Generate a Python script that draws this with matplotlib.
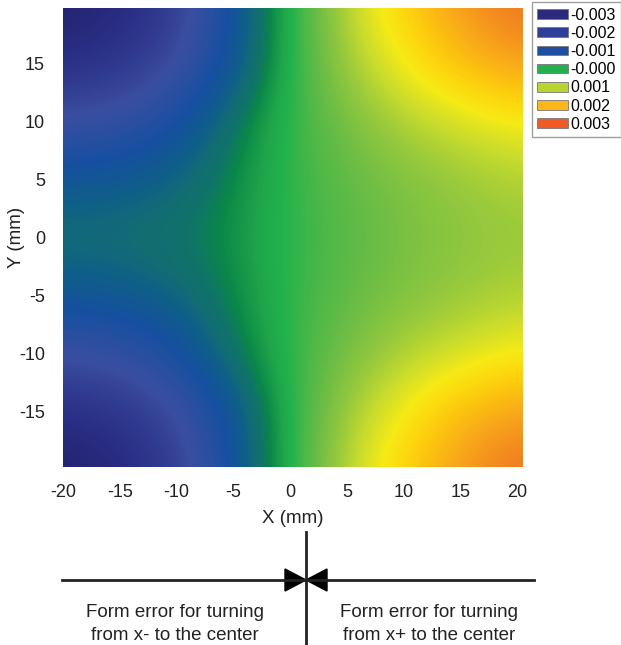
import matplotlib
matplotlib.use('Agg')
import matplotlib.pyplot as plt
import matplotlib.patches as patches
from matplotlib.colors import LinearSegmentedColormap, Normalize
import numpy as np

plt.rcParams['font.family'] = ['Liberation Sans', 'DejaVu Sans']
plt.rcParams['axes.unicode_minus'] = False

# grid of form error values (mm), rows y = 20 .. -20, cols x = -20 .. 20
x_grid = [-20, -15, -10, -5, 0, 5, 10, 15, 20]
y_grid = [20, 15, 10, 5, 0, -5, -10, -15, -20]
row_y20 = [-0.0033, -0.0031, -0.0028, -0.0019, -0.0004, 0.0009, 0.0018, 0.0026, 0.0031]
row_y15 = [-0.0030, -0.0029, -0.0026, -0.0018, -0.0004, 0.0007, 0.0014, 0.0021, 0.0025]
row_y10 = [-0.0025, -0.0024, -0.0020, -0.0011, -0.0003, 0.0003, 0.0008, 0.0011, 0.0014]
row_y5 = [-0.0017, -0.0016, -0.0014, -0.0009, -0.0003, 0.0001, 0.0004, 0.0006, 0.0008]
row_y0 = [-0.0012, -0.0012, -0.0011, -0.0008, -0.0003, 0.0000, 0.0003, 0.0005, 0.0006]
error_rows = [row_y20, row_y15, row_y10, row_y5, row_y0,
              row_y5, row_y10, row_y15, row_y20]

# colour scale anchors
cmap_values = [-0.0034, -0.0030, -0.0025, -0.0019, -0.0015, -0.0013, -0.0011,
               -0.0009, -0.0006, -0.0004, -0.0001, 0.0002, 0.0006, 0.0010,
               0.0014, 0.0017, 0.0020, 0.0024, 0.0030, 0.0034]
cmap_colors = ['#201c62', '#2a2f86', '#3a4ea0', '#1650a0', '#0f5f88', '#136c74',
               '#0f7468', '#0b8848', '#1fa64a', '#22b24c', '#4cb848', '#6cbd45',
               '#96c93d', '#c8dc2c', '#f6ea16', '#fdd80e', '#fcc40e', '#f9a81a',
               '#f07a22', '#ee5a24']

legend_labels = ['-0.003', '-0.002', '-0.001', '-0.000', '0.001', '0.002', '0.003']
legend_colors = ['#2b2a7c', '#2d3f97', '#1f4ea0', '#22b14c', '#b7d433', '#fbb717', '#f15a24']

x_ticks = [-20, -15, -10, -5, 0, 5, 10, 15, 20]
y_ticks = [-15, -10, -5, 0, 5, 10, 15]


def main():
    fig = plt.figure(figsize=(6.21, 6.45), dpi=100)
    W, H = 621, 645

    ax = fig.add_axes([63 / W, 1 - 467 / H, 460 / W, 459 / H])

    vmin, vmax = cmap_values[0], cmap_values[-1]
    pos = [(v - vmin) / (vmax - vmin) for v in cmap_values]
    cmap = LinearSegmentedColormap.from_list('form', list(zip(pos, cmap_colors)))

    z = np.array(error_rows)
    dx = (x_grid[1] - x_grid[0]) / 2
    dy = (y_grid[0] - y_grid[1]) / 2
    ax.imshow(z, cmap=cmap, norm=Normalize(vmin, vmax), interpolation='bicubic',
              extent=[x_grid[0] - dx, x_grid[-1] + dx, y_grid[-1] - dy, y_grid[0] + dy],
              aspect='auto', origin='upper')
    ax.set_xlim(-20, 20.5)
    ax.set_ylim(-19.8, 19.8)

    ax.set_xticks(x_ticks)
    ax.set_yticks(y_ticks)
    ax.tick_params(length=0, labelsize=13, colors='#222222')
    ax.tick_params(axis='x', pad=12)
    ax.tick_params(axis='y', pad=13)
    for s in ax.spines.values():
        s.set_visible(False)
    ax.set_xlabel('X (mm)', fontsize=13.5, labelpad=7, color='#222222')
    ax.set_ylabel('Y (mm)', fontsize=13.5, labelpad=-4, color='#222222')

    handles = [patches.Patch(facecolor=c, edgecolor='#777777', linewidth=0.6, label=l)
               for c, l in zip(legend_colors, legend_labels)]
    fig.legend(handles=handles, loc='upper right', bbox_to_anchor=(621 / W, 1 - 2 / H),
               fontsize=11.5, frameon=True, fancybox=False, edgecolor='#888888',
               handlelength=1.9, handleheight=0.55, handletextpad=0.15,
               labelspacing=0.2, borderpad=0.35, borderaxespad=0)

    # sketch below the map, in pixel coordinates
    ov = fig.add_axes([0, 0, 1, 1])
    ov.set_xlim(0, W)
    ov.set_ylim(H, 0)
    ov.axis('off')
    ov.plot([62, 534], [580, 580], color='#222222', lw=2)
    ov.plot([306, 306], [532, 645], color='#222222', lw=2)
    ov.add_patch(patches.Polygon([[285, 569], [285, 591], [306, 580]], closed=True,
                                 color='black'))
    ov.add_patch(patches.Polygon([[327, 569], [327, 591], [306, 580]], closed=True,
                                 color='black'))
    ov.text(175, 624, 'Form error for turning\nfrom x- to the center', ha='center',
            va='center', fontsize=13.5, linespacing=1.45, color='#222222')
    ov.text(429, 624, 'Form error for turning\nfrom x+ to the center', ha='center',
            va='center', fontsize=13.5, linespacing=1.45, color='#222222')

    fig.savefig('out.png', dpi=100)
    plt.close(fig)


if __name__ == '__main__':
    main()
